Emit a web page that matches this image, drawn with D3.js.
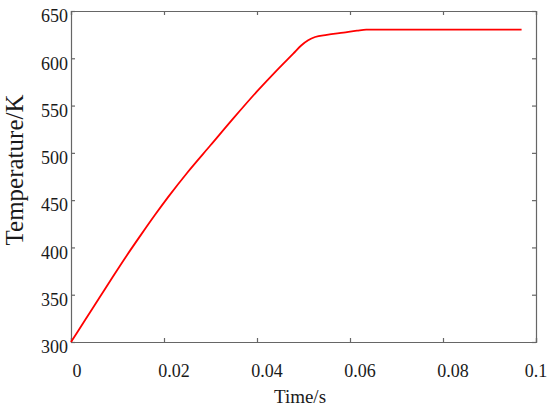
<!DOCTYPE html>
<html><head><meta charset="utf-8">
<script src="https://cdn.jsdelivr.net/npm/d3@7"></script>
<style>
html,body{margin:0;padding:0;background:#fff;}
svg{display:block;}
</style></head><body>
<svg id="chart" width="550" height="409"></svg>
<script>
const timeValues = [0, 0.003, 0.006, 0.009, 0.012, 0.015, 0.018, 0.021, 0.025, 0.03, 0.035, 0.04, 0.044, 0.0478, 0.0495, 0.051, 0.0525, 0.055, 0.0586, 0.0615, 0.0635, 0.07, 0.08, 0.09, 0.0969];
const temperatureValues = [300, 323, 346, 369, 391.5, 413, 434, 454, 479, 508, 537, 565, 586, 605, 613.5, 619, 622.5, 624.8, 627.2, 629.2, 630.3, 630.3, 630.3, 630.3, 630.3];
const xTicks = [0, 0.02, 0.04, 0.06, 0.08, 0.1];
const xTickLabels = ["0", "0.02", "0.04", "0.06", "0.08", "0.1"];
const yTicks = [300, 350, 400, 450, 500, 550, 600, 650];
const yTickLabels = ["300", "350", "400", "450", "500", "550", "600", "650"];
const xTitle = "Time/s";
const yTitle = "Temperature/K";

(function () {
const FONT = "'Liberation Serif', 'Times New Roman', serif";
const svg = d3.select("#chart");
const m = {left: 71, right: 14, top: 11, bottom: 67};
const W = 550, H = 409;
const x = d3.scaleLinear().domain([0, 0.1]).range([m.left, W - m.right]);
const y = d3.scaleLinear().domain([300, 650]).range([H - m.bottom, m.top]);
const axisColor = "#666";

const gBottom = svg.append("g").attr("transform", `translate(0,${y(300)})`)
  .call(d3.axisBottom(x).tickValues(xTicks).tickSize(-4).tickFormat(""));
const gTop = svg.append("g").attr("transform", `translate(0,${y(650)})`)
  .call(d3.axisTop(x).tickValues(xTicks).tickSize(-4).tickFormat(""));
const gLeft = svg.append("g").attr("transform", `translate(${x(0)},0)`)
  .call(d3.axisLeft(y).tickValues(yTicks).tickSize(-4).tickFormat(""));
const gRight = svg.append("g").attr("transform", `translate(${x(0.1)},0)`)
  .call(d3.axisRight(y).tickValues(yTicks).tickSize(-4).tickFormat(""));
[gBottom, gTop, gLeft, gRight].forEach(g => {
  g.selectAll("path").attr("stroke", axisColor).attr("stroke-width", 1.2);
  g.selectAll("line").attr("stroke", axisColor).attr("stroke-width", 1.2);
});

svg.append("g").selectAll("text").data(xTicks).join("text")
  .attr("x", (d) => x(d) + (d === 0 ? 6 : (d === 0.1 ? 0 : 10)))
  .attr("y", 377)
  .attr("text-anchor", "middle")
  .attr("font-family", FONT).attr("fill", "#1a1a1a")
  .attr("font-size", 18)
  .text((d, i) => xTickLabels[i]);
svg.append("g").selectAll("text").data(yTicks).join("text")
  .attr("x", x(0) - 3)
  .attr("y", d => y(d) + 5)
  .attr("dy", "0.35em")
  .attr("text-anchor", "end")
  .attr("font-family", FONT).attr("fill", "#1a1a1a")
  .attr("font-size", 18)
  .text((d, i) => yTickLabels[i]);

svg.append("text").attr("x", 300).attr("y", 403).attr("text-anchor", "middle")
  .attr("font-family", FONT).attr("fill", "#1a1a1a")
  .attr("font-size", 19).text(xTitle);
svg.append("text").attr("transform", "translate(23,170) rotate(-90)")
  .attr("font-family", FONT).attr("fill", "#1a1a1a")
  .attr("text-anchor", "middle").attr("font-size", 25).text(yTitle);

const line = d3.line().curve(d3.curveMonotoneX)
  .x((d, i) => x(timeValues[i])).y(d => y(d));
svg.append("path").datum(temperatureValues)
  .attr("d", line)
  .attr("fill", "none")
  .attr("stroke", "#ff0000")
  .attr("stroke-width", 1.8)
  .attr("stroke-linejoin", "round");
})();
</script>
</body></html>
